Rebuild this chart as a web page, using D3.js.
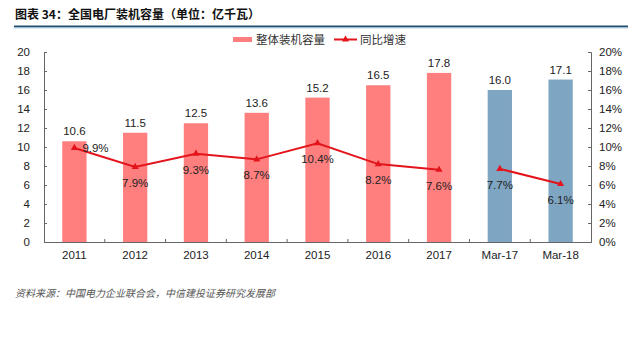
<!DOCTYPE html>
<html><head><meta charset="utf-8">
<script src="https://cdn.jsdelivr.net/npm/d3@7"></script>
<style>
body{margin:0;background:#fff;}
svg{display:block;}
</style></head>
<body>
<svg id="c" width="640" height="337"></svg>
<script>
const categories = ["2011","2012","2013","2014","2015","2016","2017","Mar-17","Mar-18"];
const capacity = [10.6, 11.5, 12.5, 13.6, 15.2, 16.5, 17.8, 16.0, 17.1];
const growth = [9.9, 7.9, 9.3, 8.7, 10.4, 8.2, 7.6, 7.7, 6.1];
const leftTicks = [0,2,4,6,8,10,12,14,16,18,20];
const rightTicks = [0,2,4,6,8,10,12,14,16,18,20];
const lineSegments = [[0,1,2,3,4,5,6],[7,8]];
const title = "图表 34：全国电厂装机容量（单位：亿千瓦）";
const source = "资料来源：中国电力企业联合会，中信建投证券研究发展部";
const legendNames = ["整体装机容量","同比增速"];

const svg = d3.select("#c");
const font = "'Liberation Sans', Arial, 'Noto Sans CJK SC', sans-serif";
const cjk = "'Noto Sans CJK SC', sans-serif";
const m = {l:44, r:591, t:52, b:242};

const x = d3.scaleBand().domain(categories).range([m.l, m.r]).paddingInner(0.6).paddingOuter(0.3);
const y = d3.scaleLinear().domain([0,20]).range([m.b, m.t]);
const y2 = d3.scaleLinear().domain([0,20]).range([m.b, m.t]);

// title
svg.append("text").attr("x",15).attr("y",19).attr("font-family",cjk).attr("font-weight","bold")
  .attr("font-size",12).attr("fill","#111").text(title);
svg.append("line").attr("x1",14).attr("x2",628).attr("y1",26.5).attr("y2",26.5)
  .attr("stroke","#1f4e6e").attr("stroke-width",2);
svg.append("line").attr("x1",14).attr("x2",628).attr("y1",28).attr("y2",28)
  .attr("stroke","#bcd3e6").attr("stroke-width",1);

// bars
svg.selectAll("rect.bar").data(capacity).enter().append("rect").attr("class","bar")
  .attr("x",(d,i)=>x(categories[i])).attr("width",x.bandwidth())
  .attr("y",d=>y(d)).attr("height",d=>y(0)-y(d))
  .attr("fill",(d,i)=>i<7?"#ff7f7f":"#7ea5c2");

// bar labels
svg.selectAll("text.bl").data(capacity).enter().append("text").attr("class","bl")
  .attr("x",(d,i)=>x(categories[i])+x.bandwidth()/2).attr("y",d=>y(d)-6)
  .attr("text-anchor","middle").attr("font-family",font).attr("font-size",11.5).attr("fill","#222")
  .text(d=>d.toFixed(1));

// axes
const axL = d3.axisLeft(y).tickValues(leftTicks).tickSize(-3).tickPadding(14).tickFormat(d3.format("d"));
const gL = svg.append("g").attr("transform",`translate(${m.l},0)`).call(axL);
const axR = d3.axisRight(y2).tickValues(rightTicks).tickSize(-3).tickPadding(10).tickFormat(d=>d+"%");
const gR = svg.append("g").attr("transform",`translate(${m.r},0)`).call(axR);
[gL,gR].forEach(g=>{
  g.select(".domain").attr("stroke","#666");
  g.selectAll(".tick line").attr("stroke","#666");
  g.selectAll("text").attr("font-family",font).attr("font-size",11.5).attr("fill","#222");
});
gR.selectAll("text").attr("x",8);
// x axis
const gX = svg.append("g").attr("transform",`translate(0,${m.b})`)
  .call(d3.axisBottom(x).tickSize(0).tickPadding(9));
gX.select(".domain").attr("stroke","#666");
gX.selectAll("text").attr("font-family",font).attr("font-size",11.5).attr("fill","#222");
const step = x.step();
const bounds = d3.range(1,categories.length).map(i=>x(categories[i]) - (step - x.bandwidth())/2);
gX.selectAll("line.xt").data(bounds).enter().append("line").attr("class","xt")
  .attr("x1",d=>d).attr("x2",d=>d).attr("y1",0).attr("y2",-3).attr("stroke","#666");

// line
const cx = i => x(categories[i]) + x.bandwidth()/2;
const lineGen = d3.line().x(i=>cx(i)).y(i=>y2(growth[i]));
lineSegments.forEach(seg=>{
  svg.append("path").attr("d",lineGen(seg)).attr("fill","none").attr("stroke","#e3141b").attr("stroke-width",2);
});
const tri = d3.symbol().type(d3.symbolTriangle).size(22);
svg.selectAll("path.mk").data(growth).enter().append("path").attr("class","mk")
  .attr("d",tri).attr("transform",(d,i)=>`translate(${cx(i)},${y2(d)})`).attr("fill","#e3141b");

// growth labels
svg.selectAll("text.gl").data(growth).enter().append("text").attr("class","gl")
  .attr("x",(d,i)=> i===0 ? cx(i)+8 : cx(i))
  .attr("y",(d,i)=> i===0 ? y2(d)+4 : y2(d)+20)
  .attr("text-anchor",(d,i)=> i===0 ? "start":"middle")
  .attr("font-family",font).attr("font-size",11.5).attr("fill","#222")
  .text(d=>d.toFixed(1)+"%");

// legend
const lg = svg.append("g");
lg.append("rect").attr("x",233).attr("y",37).attr("width",19).attr("height",5).attr("fill","#ff7f7f");
lg.append("text").attr("x",256).attr("y",44).attr("font-family",cjk).attr("font-size",11.5).attr("fill","#333").text(legendNames[0]);
lg.append("line").attr("x1",334).attr("x2",357).attr("y1",39.5).attr("y2",39.5).attr("stroke","#e3141b").attr("stroke-width",2);
lg.append("path").attr("d",tri).attr("transform","translate(345.5,39.5)").attr("fill","#e3141b");
lg.append("text").attr("x",360).attr("y",44).attr("font-family",cjk).attr("font-size",11.5).attr("fill","#333").text(legendNames[1]);

// source
svg.append("text").attr("x",15).attr("y",297).attr("font-family",cjk).attr("font-style","italic")
  .attr("font-size",10).attr("fill","#555").attr("transform","skewX(0)").text(source);
</script>
</body></html>
